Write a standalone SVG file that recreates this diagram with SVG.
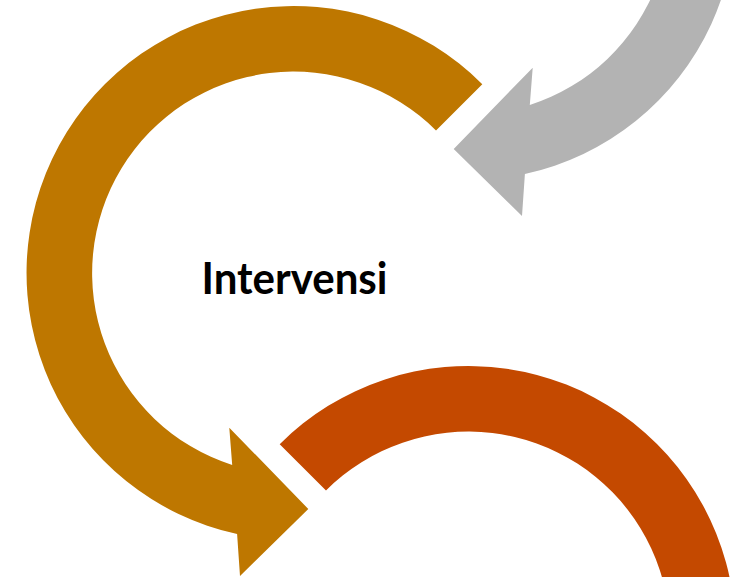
<svg xmlns="http://www.w3.org/2000/svg" xmlns:xlink="http://www.w3.org/1999/xlink" width="752" height="577" viewBox="0 0 752 577">
  <style>
    .gold { fill: #BE7700; }
    .gray { fill: #B3B3B3; }
    .rust { fill: #C44900; }
    .label { font-family: Lato, "Open Sans", "Liberation Sans", sans-serif; font-weight: bold; font-size: 43px; fill: #000000; text-anchor: middle; }
  </style>
  <defs>
    <!-- circular arrow, centered at (0,0): outer r 267, inner r 201.5 -->
    <path id="circArrow" d="M 188.8 -188.8 A 267 267 0 1 0 -56.4 261.0 L -53.5 303 L 14.8 236 L -64.2 154.7 L -61.3 192.0 A 201.5 201.5 0 1 1 142.5 -142.5 Z"/>
  </defs>
  <rect width="752" height="577" fill="#FFFFFF"/>
  <g id="connectors">
    <g id="arrow-gray">
      <use xlink:href="#circArrow" href="#circArrow" class="gray" transform="translate(468.5,-87) scale(-1,1)"/>
    </g>
    <g id="arrow-rust">
      <use xlink:href="#circArrow" href="#circArrow" class="rust" transform="translate(468.5,633) scale(-1,1)"/>
    </g>
  </g>
  <g id="node-intervensi">
    <use xlink:href="#circArrow" href="#circArrow" class="gold" transform="translate(293.5,273)"/>
    <text class="label" x="294.5" y="294" textLength="186" lengthAdjust="spacingAndGlyphs">Intervensi</text>
  </g>
</svg>
